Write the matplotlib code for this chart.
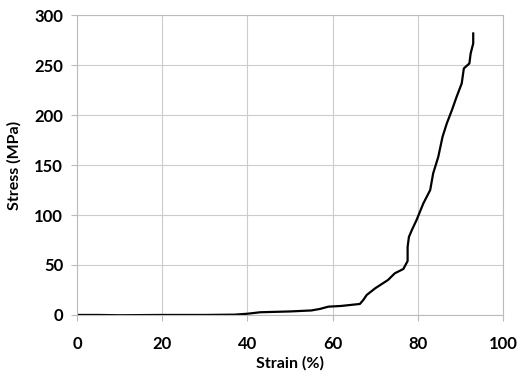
import matplotlib
matplotlib.use('Agg')
import matplotlib.pyplot as plt

# 应力-应变曲线
strain = [0, 5, 10, 20, 30, 37, 40, 43, 50, 55, 57, 59, 62, 66.4, 67.2, 68, 70, 73, 74.6, 76.6,
          77.6, 77.6, 77.9, 78.6, 79.7, 81.3, 82.9, 83.6, 84.8, 85.8, 86.8, 88, 89.1, 90.3,
          90.8, 92.1, 92.4, 93, 93]
stress = [0, 0, -0.3, 0, 0, 0.3, 1.2, 2.7, 3.5, 4.5, 6, 8.3, 9, 11, 15, 20, 26.7, 35, 41.7, 46,
          54, 68, 78, 85, 95, 111.7, 125, 141.7, 158.3, 178.3, 191.7, 205, 218.3, 231.7,
          246.7, 251.7, 261.7, 271.7, 281.7]

x_ticks = [0, 20, 40, 60, 80, 100]
y_ticks = [0, 50, 100, 150, 200, 250, 300]

plt.rcParams['font.family'] = ['Lato', 'DejaVu Sans']

fig = plt.figure(figsize=(5.17, 3.79), dpi=100)
ax = fig.add_axes([0.149, 0.169, 0.824, 0.791])

ax.plot(strain, stress, color='black', linewidth=1.6)

ax.set_xlim(0, 100)
ax.set_ylim(0, 300)
ax.set_xticks(x_ticks)
ax.set_yticks(y_ticks)
ax.grid(True, color='#cccccc', linewidth=0.8)
ax.set_axisbelow(True)
for s in ax.spines.values():
    s.set_color('#bbbbbb')
    s.set_linewidth(0.8)
ax.tick_params(colors='#bbbbbb', labelcolor='black', length=4, width=0.8, labelsize=12, pad=6)
for lbl in ax.get_xticklabels() + ax.get_yticklabels():
    lbl.set_fontweight('bold')
ax.tick_params(axis='x', pad=11)

ax.set_xlabel('Strain (%)', fontsize=11.5, fontweight='bold', labelpad=3)
ax.set_ylabel('Stress (MPa)', fontsize=11.5, fontweight='bold', labelpad=9)

fig.savefig('out.png', dpi=100)
